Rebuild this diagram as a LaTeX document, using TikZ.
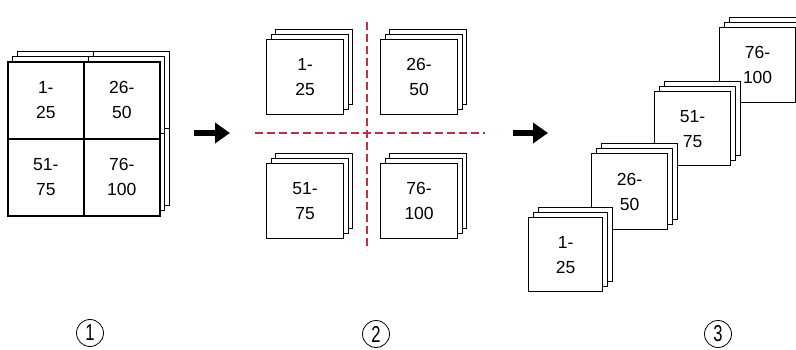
\documentclass[tikz,border=0pt]{standalone}
\usepackage{fontspec}
\usepackage{graphicx}
\setmainfont{Liberation Sans}
\usetikzlibrary{arrows.meta}
\definecolor{cutred}{RGB}{196,45,65}
% name, x, y, w, h, dx, text
\newcommand{\sheetstack}[7]{%
  \node[sheet, minimum width=#4pt, minimum height=#5pt] (#1-b2) at (#2+2*#6, #3-10) {};
  \node[sheet, minimum width=#4pt, minimum height=#5pt] (#1-b1) at (#2+#6, #3-5) {};
  \node[sheet, lbl, minimum width=#4pt, minimum height=#5pt] (#1) at (#2, #3) {#7};
}
\begin{document}
\begin{tikzpicture}[x=1pt,y=-1pt,
  sheet/.style={draw, fill=white, line width=1.2pt, inner sep=0pt, anchor=north west},
  lbl/.style={font=\fontsize{17.5}{25}\selectfont, align=center},
  grid/.style={line width=1.6pt},
  cut/.style={draw=cutred, line width=1.1pt, dash pattern=on 8pt off 4pt},
  bigarrow/.style={line width=6pt, -{Triangle[length=15pt,width=20pt]}},
  num/.style={draw, circle, minimum size=27pt, inner sep=0pt, line width=0.8pt,
    font=\fontsize{23}{23}\selectfont}]
\useasboundingbox (0,0) rectangle (796,350);
\clip (0,0) rectangle (796,350);

% ---------- panel 1 ----------
\node[sheet, minimum width=76pt, minimum height=77pt] (p1a-b2) at (17,51) {};
\node[sheet, minimum width=76pt, minimum height=77pt] (p1b-b2) at (93,51) {};
\node[sheet, minimum width=76pt, minimum height=77pt] (p1c-b2) at (17,128) {};
\node[sheet, minimum width=76pt, minimum height=77pt] (p1d-b2) at (93,128) {};
\node[sheet, minimum width=76pt, minimum height=77pt] (p1a-b1) at (12,56) {};
\node[sheet, minimum width=76pt, minimum height=77pt] (p1b-b1) at (88,56) {};
\node[sheet, minimum width=76pt, minimum height=77pt] (p1c-b1) at (12,133) {};
\node[sheet, minimum width=76pt, minimum height=77pt] (p1d-b1) at (88,133) {};
\node[sheet, grid, lbl, minimum width=76pt, minimum height=77pt] (p1a) at (7,61) {1-\\25};
\node[sheet, grid, lbl, minimum width=76pt, minimum height=77pt] (p1b) at (83,61) {26-\\50};
\node[sheet, grid, lbl, minimum width=76pt, minimum height=77pt] (p1c) at (7,138) {51-\\75};
\node[sheet, grid, lbl, minimum width=76pt, minimum height=77pt] (p1d) at (83,138) {76-\\100};

% arrow 1
\coordinate (a1s) at (194,133);
\coordinate (a1e) at (230,133);
\draw[bigarrow] (a1s) -- (a1e);

% ---------- panel 2 ----------
\coordinate (vt) at (367,22);
\coordinate (vb) at (367,250);
\coordinate (hl) at (255,133);
\coordinate (hr) at (485,133);
\draw[cut] (vt) -- (vb);
\draw[cut] (hl) -- (hr);
\sheetstack{p2a}{266}{39}{77}{75}{4.5}{1-\\25}
\sheetstack{p2b}{380}{39}{77}{75}{4.5}{26-\\50}
\sheetstack{p2c}{266}{163}{77}{75}{4.5}{51-\\75}
\sheetstack{p2d}{380}{163}{77}{75}{4.5}{76-\\100}

% arrow 2
\coordinate (a2s) at (513,133);
\coordinate (a2e) at (548,133);
\draw[bigarrow] (a2s) -- (a2e);

% ---------- panel 3 ----------
\sheetstack{p3d}{719}{27}{76}{75}{5}{76-\\100}
\sheetstack{p3c}{654}{91}{76}{74}{5}{51-\\75}
\sheetstack{p3b}{591}{153}{76}{76}{5}{26-\\50}
\sheetstack{p3a}{528}{217}{74}{74}{5}{1-\\25}

% ---------- step numbers ----------
\node[num] (n1) at (90,333) {\scalebox{0.72}[1]{1}};
\node[num] (n2) at (376,334) {\scalebox{0.72}[1]{2}};
\node[num] (n3) at (718,334) {\scalebox{0.72}[1]{3}};
\end{tikzpicture}
\end{document}
